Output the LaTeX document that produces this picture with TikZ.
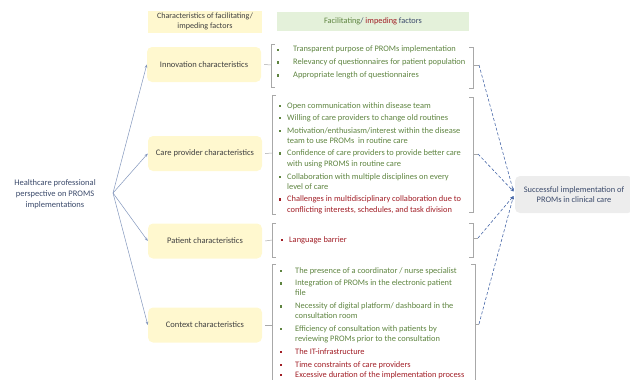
\documentclass[tikz,border=0pt]{standalone}
\usepackage{fontspec}
\setmainfont{Carlito}
\usetikzlibrary{arrows.meta}
\definecolor{yelfill}{HTML}{FFF8CF}
\definecolor{grnfill}{HTML}{E4F1DA}
\definecolor{grayfill}{HTML}{EDEDED}
\definecolor{gtxt}{HTML}{5E8440}
\definecolor{rtxt}{HTML}{A11E26}
\definecolor{dtxt}{HTML}{404040}
\definecolor{btxt}{HTML}{3B4A6B}
\definecolor{brk}{HTML}{A8A8A8}
\definecolor{larr}{HTML}{8296BC}
\definecolor{darr}{HTML}{4868A8}
\newcommand{\bsq}[3]{\fill[#1] (#2-1.1,#3-1.1) rectangle (#2+1.1,#3+1.1);}
\begin{document}
\begin{tikzpicture}[x=1pt,y=-1pt,
  cat/.style={fill=yelfill,rounded corners=5pt,minimum width=114pt,minimum height=35pt,inner sep=1pt,font=\fontsize{8.5}{10}\selectfont,text=dtxt},
  itm/.style={anchor=west,inner sep=0pt,font=\fontsize{8.4}{10}\selectfont,text height=5.5pt,text depth=1.5pt},
  gi/.style={itm,text=gtxt},
  ri/.style={itm,text=rtxt},
  bracket/.style={draw=brk,line width=0.5pt},
  larrow/.style={draw=larr,line width=0.5pt,-{Stealth[length=3.5pt,width=2.6pt]}},
  darrow/.style={draw=darr,line width=0.6pt,dash pattern=on 3pt off 2pt,-{Stealth[length=3.5pt,width=2.8pt]}},
]
\useasboundingbox (0,0) rectangle (630,380);

% headers
\node[fill=yelfill,minimum width=114pt,minimum height=22pt,inner sep=0pt,align=center,font=\fontsize{8.1}{10}\selectfont,text=dtxt] (h1) at (205,21.5) {Characteristics of facilitating/\\impeding factors};
\node[fill=grnfill,minimum width=192pt,minimum height=19pt,inner sep=0pt,font=\fontsize{8.3}{10}\selectfont] (h2) at (373,21.5) {\textcolor{gtxt}{Facilitating}\textcolor{btxt}{/} \textcolor{rtxt}{impeding} \textcolor{btxt}{factors}};

% left source
\node[align=center,font=\fontsize{8.5}{10.8}\selectfont,text=btxt,inner sep=0pt] (src) at (55,194) {Healthcare professional\\perspective on PROMS\\implementations};
\coordinate (o) at (113,193);

% category boxes
\node[cat] (inn) at (204,64.5) {Innovation characteristics};
\node[cat] (care) at (205,153.5) {Care provider characteristics};
\node[cat] (pat) at (205,241) {Patient characteristics};
\node[cat] (ctx) at (205,325) {Context characteristics};

% target
\node[fill=grayfill,rounded corners=5pt,minimum width=118pt,minimum height=37pt,inner sep=0pt,align=center,font=\fontsize{8.4}{10.5}\selectfont,text=btxt] (tgt) at (574,194.5) {Successful implementation of\\PROMs in clinical care};

% left arrows
\draw[larrow] (o) -- (inn.west);
\draw[larrow] (o) -- (care.west);
\draw[larrow] (o) -- (pat.west);
\draw[larrow] (o) -- (ctx.west);

% bracket coordinates
\coordinate (L1) at (271,65); \coordinate (R1) at (479,65);
\coordinate (L2) at (272,153); \coordinate (R2) at (478,154);
\coordinate (L3) at (272,240); \coordinate (R3) at (478,238);
\coordinate (L4) at (272,325); \coordinate (R4) at (479,324);

% innovation bracket
\draw[bracket] (275,44) -- (271,44) -- (271,87) -- (275,87);
\draw[bracket] ([xshift=3pt]inn.east) -- (L1);
\draw[bracket] (469,47) -- (473,47) -- (473,88) -- (469,88);
\draw[bracket] (473,65) -- (R1);
% care bracket
\draw[bracket] (276,95) -- (272,95) -- (272,214) -- (276,214);
\draw[bracket] ([xshift=3pt]care.east) -- (L2);
\draw[bracket] (469,97) -- (473,97) -- (473,212) -- (469,212);
\draw[bracket] (473,154) -- (R2);
% patient bracket
\draw[bracket] (276,223) -- (272,223) -- (272,257) -- (276,257);
\draw[bracket] ([xshift=3pt]pat.east) -- (L3);
\draw[bracket] (469,223) -- (473,223) -- (473,257) -- (469,257);
\draw[bracket] (473,238) -- (R3);
% context bracket
\draw[bracket] (276,264) -- (272,264) -- (272,382);
\draw[bracket] ([xshift=3pt]ctx.east) -- (L4);
\draw[bracket] (471,264) -- (475,264) -- (475,382);
\draw[bracket] (475,324) -- (R4);

% dashed arrows to target
\coordinate (t1) at (513.5,191.5);
\coordinate (t2) at (513.5,196);
\draw[darrow] (R1) -- (t1);
\draw[darrow] (R2) -- (t1);
\draw[darrow] (R3) -- (t2);
\draw[darrow] (R4) -- (t2);

% innovation items
\bsq{gtxt}{278}{50} \node[gi] (i1) at (293,50) {Transparent purpose of PROMs implementation};
\bsq{gtxt}{278}{62.5} \node[gi] (i2) at (293,62.5) {Relevancy of questionnaires for patient population};
\bsq{gtxt}{278}{75.5} \node[gi] (i3) at (293,75.5) {Appropriate length of questionnaires};

% care items
\bsq{gtxt}{280}{106} \node[gi] (c1) at (287,106) {Open communication within disease team};
\bsq{gtxt}{280}{118} \node[gi] (c2) at (287,118) {Willing of care providers to change old routines};
\bsq{gtxt}{280}{131} \node[gi] (c3) at (287,131) {Motivation/enthusiasm/interest within the disease};
\node[gi] (c3b) at (287,141) {team to use PROMs\ \ in routine care};
\bsq{gtxt}{280}{153.5} \node[gi] (c4) at (287,153.5) {Confidence of care providers to provide better care};
\node[gi] (c4b) at (287,164) {with using PROMS in routine care};
\bsq{gtxt}{280}{177} \node[gi] (c5) at (287,177) {Collaboration with multiple disciplines on every};
\node[gi] (c5b) at (287,187) {level of care};
\bsq{rtxt}{280}{199.5} \node[ri] (c6) at (287,199.5) {Challenges in multidisciplinary collaboration due to};
\node[ri] (c6b) at (287,210) {conflicting interests, schedules, and task division};

% patient items
\bsq{rtxt}{282}{240} \node[ri] (p1) at (289,240) {Language barrier};

% context items
\bsq{gtxt}{281}{271} \node[gi] (x1) at (295,271) {The presence of a coordinator / nurse specialist};
\bsq{gtxt}{281}{283.5} \node[gi] (x2) at (295,283.5) {Integration of PROMs in the electronic patient};
\node[gi] (x2b) at (295,293.5) {file};
\bsq{gtxt}{281}{306.5} \node[gi] (x3) at (295,306.5) {Necessity of digital platform/ dashboard in the};
\node[gi] (x3b) at (295,316.5) {consultation room};
\bsq{gtxt}{281}{329} \node[gi] (x4) at (295,329) {Efficiency of consultation with patients by};
\node[gi] (x4b) at (295,339.5) {reviewing PROMs prior to the consultation};
\bsq{rtxt}{281}{352} \node[ri] (x5) at (295,352) {The IT-infrastructure};
\bsq{rtxt}{281}{365} \node[ri] (x6) at (295,365) {Time constraints of care providers};
\bsq{rtxt}{281}{375} \node[ri] (x7) at (295,375) {Excessive duration of the implementation process};
\end{tikzpicture}
\end{document}
